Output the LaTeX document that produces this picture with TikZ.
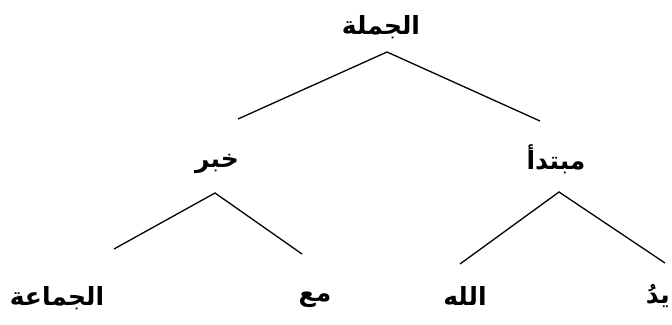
\documentclass[tikz,border=0pt]{standalone}
\usepackage{fontspec}
\setmainfont{DejaVu Sans}
\newfontfamily\arabicfont[Script=Arabic]{DejaVu Sans}
\TeXXeTstate=1
\usetikzlibrary{calc}

\tikzset{
  word/.style={inner sep=0pt, font=\arabicfont\bfseries\fontsize{25}{30}\selectfont},
  branch/.style={line width=1.3pt}
}

\begin{document}
\begin{tikzpicture}[x=1pt,y=-1pt]
\useasboundingbox (0,0) rectangle (672,324);

% Root
\node[word] (jumla) at (381,27) {\beginR الجملة\endR};
\coordinate (jumla-tip) at (387,52);

% Second level
\node[word] (khabar) at (217,164) {\beginR خبر\endR};
\coordinate (khabar-end) at (238,119);
\coordinate (khabar-tip) at (215,193);

\node[word] (mubtada) at (556,159) {\beginR مبتدأ\endR};
\coordinate (mubtada-end) at (540,121);
\coordinate (mubtada-tip) at (559,192);

% Leaves
\node[word] (jamaa) at (57,298) {\beginR الجماعة\endR};
\coordinate (jamaa-end) at (114,249);
\node[word] (maa) at (315,300) {\beginR مع\endR};
\coordinate (maa-end) at (302,254);
\node[word] (allah) at (465,296) {\beginR الله\endR};
\coordinate (allah-end) at (460,264);
\node[word, anchor=east] (yad) at (670,296) {\beginR يدُ\endR};
\coordinate (yad-end) at (665,263);

% Branches
\draw[branch] (khabar-end) -- (jumla-tip) -- (mubtada-end);
\draw[branch] (jamaa-end) -- (khabar-tip) -- (maa-end);
\draw[branch] (allah-end) -- (mubtada-tip) -- (yad-end);

\end{tikzpicture}
\end{document}
